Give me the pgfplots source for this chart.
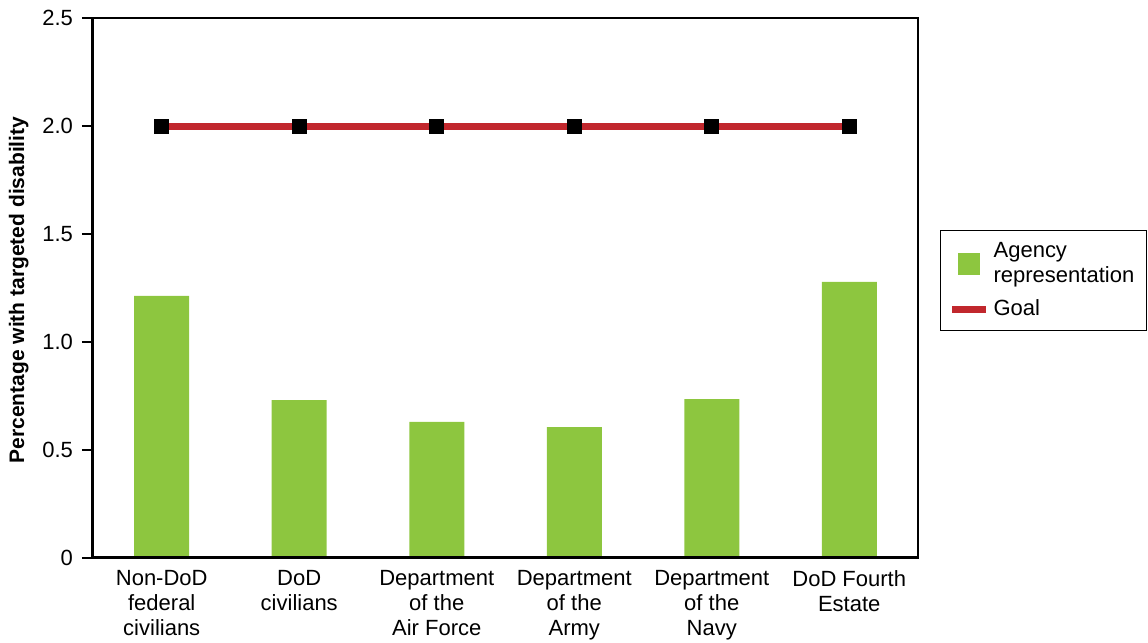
\documentclass[border=0pt]{standalone}
\usepackage{fontspec}
\setmainfont{Liberation Sans}
\usepackage{pgfplots}
\pgfplotsset{compat=1.18}
\definecolor{barg}{HTML}{8DC63F}
\definecolor{goalr}{HTML}{C1272D}
\begin{document}
\begin{tikzpicture}
\begin{axis}[
  at={(0pt,0pt)}, anchor=south west,
  scale only axis,
  width=412.5pt, height=270pt,
  xmin=-0.5, xmax=5.5, ymin=0, ymax=2.5,
  xtick={0,...,5},
  xticklabels={{Non-DoD\\federal\\civilians},{DoD\\civilians},{Department\\of the\\Air Force},{Department\\of the\\Army},{Department\\of the\\Navy},{DoD Fourth\\Estate}},
  xticklabel style={align=center, anchor=north, yshift=3pt, font=\fontsize{11}{12.5}\selectfont},
  x tick style={draw=none},
  extra x ticks={0.5,1.5,2.5,3.5,4.5},
  extra x tick labels={},
  extra x tick style={tick align=inside, major tick length=5.5pt, tick style={draw=black, line width=0.6pt}},
  ytick={0,0.5,1,1.5,2,2.5},
  yticklabels={0,0.5,1.0,1.5,2.0,2.5},
  ytick pos=left,
  yticklabel style={font=\fontsize{11}{12}\selectfont, xshift=-1pt},
  /pgf/number format/assume math mode=true,
  tick align=outside, major tick length=5.5pt,
  y tick style={line width=0.6pt, black},
  axis line style={line width=0.6pt},
  ylabel={\bfseries Percentage with targeted disability},
  ylabel style={font=\fontsize{10.5}{12}\selectfont, xshift=-1pt},
  legend style={at={(1.0267,0.6074)}, anchor=north west, draw=black, line width=0.6pt,
    font=\fontsize{11}{12.5}\selectfont, cells={align=left, anchor=west},
    inner xsep=4pt, inner ysep=4pt, row sep=3pt},
  clip=false,
]
\addplot[ybar, bar width=27.5pt, fill=barg, draw=none,
  legend image code/.code={\fill[barg] (0pt,-5.5pt) rectangle (11pt,5.5pt);}]
  coordinates {(0,1.213) (1,0.731) (2,0.630) (3,0.606) (4,0.736) (5,1.278)};
\addlegendentry{Agency\\representation}
\addplot[goalr, line width=3.5pt, mark=square*, mark size=3.5pt,
  mark options={fill=black, draw=black, line width=0pt},
  legend image code/.code={\draw[goalr, line width=3.5pt] (-3pt,0pt) -- (14pt,0pt);}]
  coordinates {(0,2) (1,2) (2,2) (3,2) (4,2) (5,2)};
\addlegendentry{Goal}
\draw[line width=1.5pt] (rel axis cs:0,1) -- (rel axis cs:0,0) -- (rel axis cs:1,0);
\end{axis}
\pgfresetboundingbox
\useasboundingbox (-46.5pt,-42.5pt) rectangle (527.5pt,279pt);
\end{tikzpicture}
\end{document}
